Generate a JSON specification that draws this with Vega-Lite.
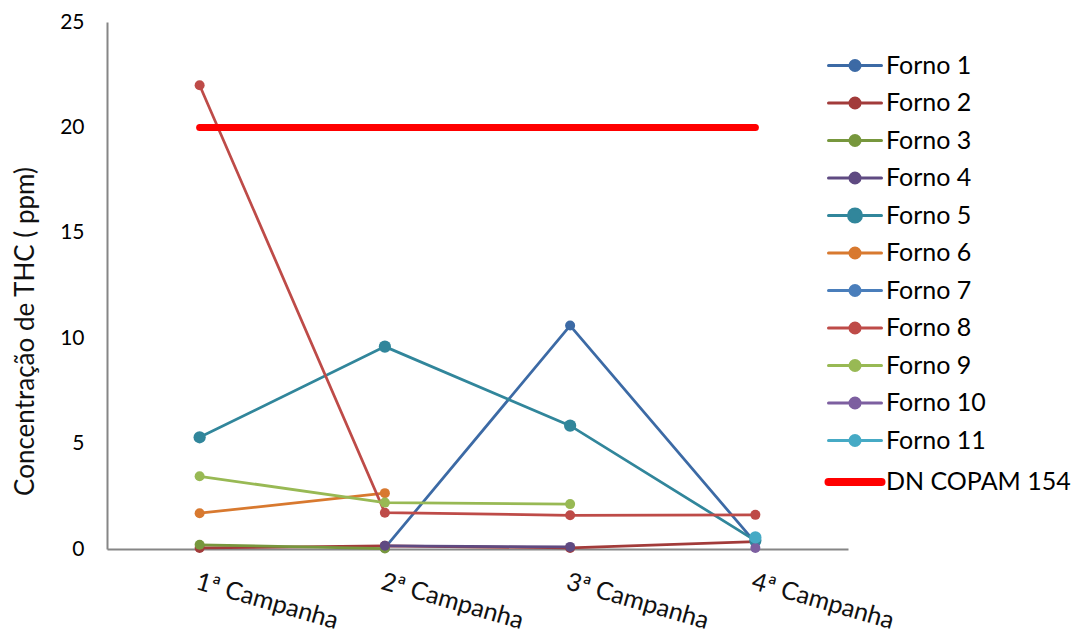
{
  "$schema": "https://vega.github.io/schema/vega-lite/v6.json",
  "width": 741,
  "height": 527,
  "autosize": {"type": "none"},
  "padding": {"left": 107, "top": 22, "right": 225, "bottom": 88},
  "background": "white",
  "config": {
    "view": {"stroke": null},
    "font": "Lato",
    "axis": {"domainColor": "#868686", "domainWidth": 2, "grid": false, "ticks": false, "labelColor": "#000000", "labelFont": "Lato", "titleFont": "Lato"}
  },
  "datasets": {
    "fornos": [
      {"campanha": "2ª Campanha", "serie": "Forno 1", "valor": 0.05},
      {"campanha": "3ª Campanha", "serie": "Forno 1", "valor": 10.6},
      {"campanha": "4ª Campanha", "serie": "Forno 1", "valor": 0.3},
      {"campanha": "1ª Campanha", "serie": "Forno 2", "valor": 0.05},
      {"campanha": "2ª Campanha", "serie": "Forno 2", "valor": 0.15},
      {"campanha": "3ª Campanha", "serie": "Forno 2", "valor": 0.05},
      {"campanha": "4ª Campanha", "serie": "Forno 2", "valor": 0.35},
      {"campanha": "1ª Campanha", "serie": "Forno 3", "valor": 0.2},
      {"campanha": "2ª Campanha", "serie": "Forno 3", "valor": 0.02},
      {"campanha": "2ª Campanha", "serie": "Forno 4", "valor": 0.15},
      {"campanha": "3ª Campanha", "serie": "Forno 4", "valor": 0.1},
      {"campanha": "1ª Campanha", "serie": "Forno 5", "valor": 5.3},
      {"campanha": "2ª Campanha", "serie": "Forno 5", "valor": 9.6},
      {"campanha": "3ª Campanha", "serie": "Forno 5", "valor": 5.85},
      {"campanha": "4ª Campanha", "serie": "Forno 5", "valor": 0.4},
      {"campanha": "1ª Campanha", "serie": "Forno 6", "valor": 1.7},
      {"campanha": "2ª Campanha", "serie": "Forno 6", "valor": 2.65},
      {"campanha": "1ª Campanha", "serie": "Forno 8", "valor": 22.0},
      {"campanha": "2ª Campanha", "serie": "Forno 8", "valor": 1.72},
      {"campanha": "3ª Campanha", "serie": "Forno 8", "valor": 1.6},
      {"campanha": "4ª Campanha", "serie": "Forno 8", "valor": 1.62},
      {"campanha": "1ª Campanha", "serie": "Forno 9", "valor": 3.45},
      {"campanha": "2ª Campanha", "serie": "Forno 9", "valor": 2.2},
      {"campanha": "3ª Campanha", "serie": "Forno 9", "valor": 2.13},
      {"campanha": "4ª Campanha", "serie": "Forno 10", "valor": 0.05},
      {"campanha": "4ª Campanha", "serie": "Forno 11", "valor": 0.55}
    ],
    "limite": [
      {"campanha": "1ª Campanha", "serie": "DN COPAM 154", "valor": 20},
      {"campanha": "2ª Campanha", "serie": "DN COPAM 154", "valor": 20},
      {"campanha": "3ª Campanha", "serie": "DN COPAM 154", "valor": 20},
      {"campanha": "4ª Campanha", "serie": "DN COPAM 154", "valor": 20}
    ]
  },
  "encoding": {
    "x": {
      "field": "campanha",
      "type": "ordinal",
      "sort": ["1ª Campanha", "2ª Campanha", "3ª Campanha", "4ª Campanha"],
      "scale": {"type": "point", "padding": 0.5},
      "axis": {"title": null, "labelAngle": 16, "labelFontSize": 25, "labelPadding": 20, "labelAlign": "left", "labelBaseline": "top", "labelColor": "#111111", "labelLimit": 400}
    },
    "y": {
      "field": "valor",
      "type": "quantitative",
      "scale": {"domain": [0, 25], "nice": false, "zero": true},
      "axis": {"title": "Concentração de THC ( ppm)", "values": [0, 5, 10, 15, 20, 25], "labelFontSize": 21, "labelPadding": 23, "titleFontSize": 26, "titleFontWeight": "normal", "titleColor": "#111111", "titleX": -82, "titleY": 309, "titleAngle": -90, "titleAlign": "center", "titleBaseline": "middle"}
    },
    "color": {
      "field": "serie",
      "type": "nominal",
      "scale": {
        "domain": ["Forno 1", "Forno 2", "Forno 3", "Forno 4", "Forno 5", "Forno 6", "Forno 7", "Forno 8", "Forno 9", "Forno 10", "Forno 11", "DN COPAM 154"],
        "range": ["#3C6AA5", "#A23B3A", "#77973D", "#5F4A82", "#31869B", "#D8792F", "#4A7EBB", "#BE4B48", "#98B954", "#7D5FA0", "#46AAC5", "#FF0000"]
      },
      "legend": {
        "title": null,
        "orient": "none",
        "legendX": 735.5,
        "legendY": 31,
        "labelFontSize": 25,
        "labelColor": "#000000",
        "labelFont": "Lato",
        "labelOffset": 18.5,
        "symbolSize": 2809,
        "symbolStrokeWidth": 3,
        "rowPadding": 11.5,
        "labelLimit": 300,
        "encode": {
          "symbols": {
            "update": {
              "shape": {"signal": "datum.value === 'DN COPAM 154' ? 'M-1,0L1,0' : (datum.value === 'Forno 5' ? 'M-1,0L1,0M-0.245,0A0.245,0.245,0,1,1,0.245,0A0.245,0.245,0,1,1,-0.245,0Z' : 'M-1,0L1,0M-0.19,0A0.19,0.19,0,1,1,0.19,0A0.19,0.19,0,1,1,-0.19,0Z')"},
              "fill": {"signal": "scale('color', datum.value)"},
              "stroke": {"signal": "scale('color', datum.value)"},
              "strokeWidth": {"signal": "datum.value === 'DN COPAM 154' ? 8 : 3"},
              "strokeCap": {"value": "round"},
              "opacity": {"value": 1}
            }
          }
        }
      }
    }
  },
  "layer": [
    {
      "data": {"name": "fornos"},
      "mark": {"type": "line", "strokeWidth": 2.75},
      "encoding": {"order": {"field": "campanha"}}
    },
    {
      "data": {"name": "fornos"},
      "mark": {"type": "circle", "opacity": 1},
      "encoding": {
        "size": {"condition": {"test": "datum.serie === 'Forno 5' || datum.serie === 'Forno 11'", "value": 150}, "value": 100}
      }
    },
    {
      "data": {"name": "limite"},
      "mark": {"type": "line", "strokeWidth": 7, "strokeCap": "round"},
      "encoding": {}
    }
  ]
}
